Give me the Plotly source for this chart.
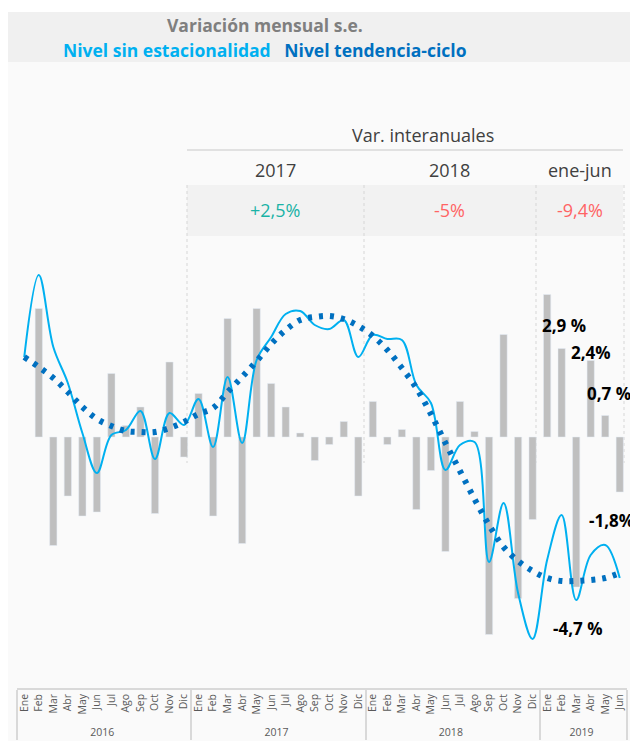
import plotly.graph_objects as go

# --- data ---
years = ["2016"] * 12 + ["2017"] * 12 + ["2018"] * 12 + ["2019"] * 6
months = ["Ene", "Feb", "Mar", "Abr", "May", "Jun", "Jul", "Ago", "Sep", "Oct", "Nov", "Dic"] * 3 + \
         ["Ene", "Feb", "Mar", "Abr", "May", "Jun"]

# monthly variation s.e. (%)
var_mensual = [None, 2.57, -2.17, -1.18, -1.58, -1.50, 1.27, 0.23, 0.60, -1.53, 1.50, -0.40,
               0.87, -1.58, 2.37, -2.13, 2.57, 1.07, 0.60, 0.08, -0.47, -0.15, 0.31, -1.18,
               0.71, -0.15, 0.15, -1.45, -0.67, -2.29, 0.71, 0.11, -3.95, 2.05, -3.23, -1.65,
               2.85, 1.77, -3.00, 1.53, 0.43, -1.10]

# level without seasonality (index)
nivel_se = [104.0, 108.1, 104.5, 102.7, 100.2, 98.2, 100.1, 100.35, 101.3, 98.9, 101.2, 100.6,
            101.9, 99.5, 103.0, 99.7, 103.85, 105.0, 106.15, 106.3, 105.6, 105.4, 105.85, 104.0,
            105.1, 104.9, 104.85, 102.6, 101.7, 98.35, 99.6, 99.75, 93.75, 96.7, 92.2, 89.9,
            93.85, 96.1, 91.85, 94.1, 94.6, 92.95]

# trend-cycle level (index)
nivel_tc = [104.0, 103.5, 102.95, 102.25, 101.5, 100.9, 100.55, 100.3, 100.25, 100.25, 100.45, 100.75,
            101.15, 101.45, 102.25, 103.0, 103.8, 104.65, 105.35, 105.85, 106.0, 106.05, 105.9, 105.55,
            105.05, 104.35, 103.45, 102.45, 101.15, 99.7, 98.3, 96.9, 95.6, 94.5, 93.8, 93.3,
            92.95, 92.8, 92.8, 92.85, 92.95, 93.2]

periodos = ["2017", "2018", "ene-jun"]
var_interanual = ["+2,5%", "-5%", "-9,4%"]
var_colores = ["#1ab3a6", "#ff6464", "#ff6464"]

etiquetas = ["2,9 %", "2,4%", "0,7 %", "-1,8%", "-4,7 %"]

FONT = "Open Sans"

fig = go.Figure()

fig.add_trace(go.Bar(x=[years, months], y=var_mensual, marker_color="#bfbfbf",
                     width=0.5, showlegend=False))

fig.add_trace(go.Scatter(x=[years, months], y=nivel_se, yaxis="y2", mode="lines",
                         line=dict(color="#00b0f0", width=2, shape="spline", smoothing=1),
                         showlegend=False))

fig.add_trace(go.Scatter(x=[years, months], y=nivel_tc, yaxis="y2", mode="lines",
                         line=dict(color="#0070c0", width=6, shape="spline", dash="4px,7px"),
                         showlegend=False))

# title band
fig.add_shape(type="rect", xref="paper", yref="paper", x0=-0.0197, x1=1.03, y0=1.0, y1=1.08,
              fillcolor="#f0f0f0", line_width=0, layer="below")
fig.add_shape(type="rect", xref="paper", yref="paper", x0=-0.03, x1=1.03, y0=1.08, y1=1.1,
              fillcolor="white", line_width=0, layer="below")

fig.add_annotation(text="<b>Variación mensual s.e.</b>", xref="paper", yref="paper",
                   x=0.4066, y=1.0591, showarrow=False, xanchor="center", yanchor="middle",
                   font=dict(family=FONT, size=17.5, color="#7f7f7f"))
fig.add_annotation(text="<b><span style='color:#00b0f0'>Nivel sin estacionalidad</span>"
                        "   <span style='color:#0070c0'>Nivel tendencia-ciclo</span></b>",
                   xref="paper", yref="paper", x=0.4066, y=1.0192, showarrow=False,
                   xanchor="center", yanchor="middle",
                   font=dict(family=FONT, size=17.5))

# interannual header block
dash_x = [0.2787, 0.5689, 0.8508, 0.9951]
fig.add_shape(type="rect", xref="paper", yref="y", x0=0.2787, x1=0.9934, y0=4.02, y1=5.04,
              fillcolor="#f2f2f2", line_width=0, layer="below")
fig.add_shape(type="line", xref="paper", yref="y", x0=0.2787, x1=0.9934, y0=5.74, y1=5.74,
              line=dict(color="#d9d9d9", width=1.5))
for xv in dash_x:
    fig.add_shape(type="line", xref="paper", yref="y", x0=xv, x1=xv, y0=5.04, y1=-0.52,
                  line=dict(color="#d6d6d6", width=1, dash="3px,3px"), layer="below")

fig.add_annotation(text="Var. interanuales", xref="paper", yref="y", x=0.6656, y=6.04,
                   showarrow=False, xanchor="center", yanchor="middle",
                   font=dict(family=FONT, size=18, color="#404040"))
hx = [0.423, 0.7098, 0.923]
for i in range(3):
    fig.add_annotation(text=periodos[i], xref="paper", yref="y", x=hx[i], y=5.34,
                       showarrow=False, xanchor="center", yanchor="middle",
                       font=dict(family=FONT, size=18, color="#404040"))
    fig.add_annotation(text=var_interanual[i], xref="paper", yref="y", x=hx[i], y=4.54,
                       showarrow=False, xanchor="center", yanchor="middle",
                       font=dict(family=FONT, size=18, color=var_colores[i]))

# data labels on the right
lx = [0.8967, 0.9418, 0.9713, 0.9746, 0.9189]
ly = [2.24, 1.69, 0.87, -1.66, -3.83]
for i in range(len(etiquetas)):
    fig.add_annotation(text="<b>" + etiquetas[i] + "</b>", xref="paper", yref="y",
                       x=lx[i], y=ly[i], showarrow=False, xanchor="center", yanchor="middle",
                       font=dict(family=FONT, size=17, color="black"))

# page body adds an 8px margin, so the figure is 8px smaller than the window
fig.update_layout(
    width=630, height=733,
    margin=dict(l=9, r=11, t=54, b=53),
    paper_bgcolor="#fafafa", plot_bgcolor="#fafafa",
    bargap=0.5,
    font=dict(family=FONT, color="#595959"),
    xaxis=dict(type="multicategory", tickangle=-90, tickfont=dict(size=10.5, color="#595959"),
               showline=True, linecolor="#d9d9d9", linewidth=1.5, ticks="",
               showdividers=True, dividercolor="#d9d9d9", dividerwidth=1.5,
               range=[-0.5, 41.5], automargin=False),
    yaxis=dict(range=[-5.02, 7.5], visible=False, fixedrange=True),
    yaxis2=dict(range=[87.45, 118.75], overlaying="y", visible=False),
)

fig.write_html("out.html")
